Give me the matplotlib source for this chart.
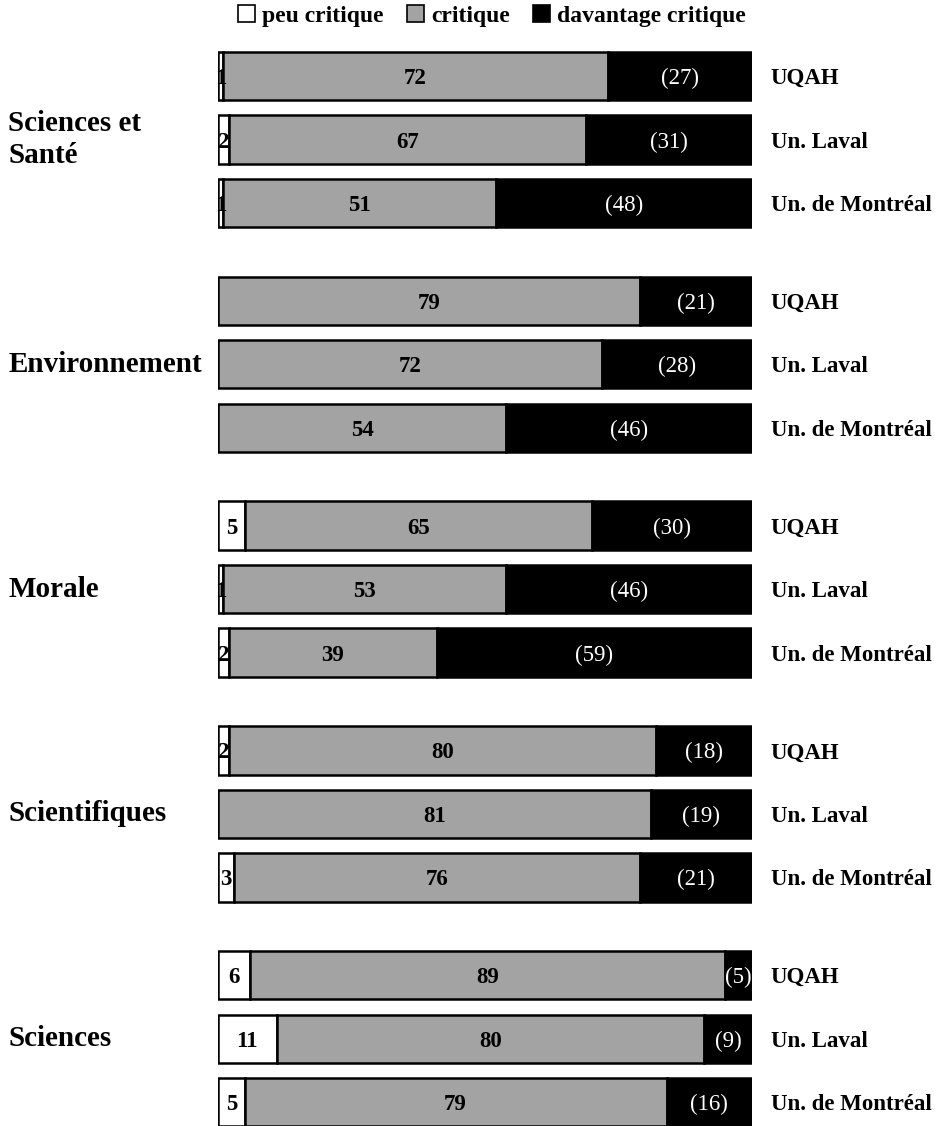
import numpy as np
import matplotlib.pyplot as plt
from matplotlib.patches import Patch

plt.rcParams['font.family'] = ['Liberation Serif', 'DejaVu Serif']

# data (percent)
groups = ["Sciences et\nSanté", "Environnement", "Morale", "Scientifiques", "Sciences"]
universities = ["UQAH", "Un. Laval", "Un. de Montréal"]
peu = [[1, 2, 1], [0, 0, 0], [5, 1, 2], [2, 0, 3], [6, 11, 5]]
critique = [[72, 67, 51], [79, 72, 54], [65, 53, 39], [80, 81, 76], [89, 80, 79]]
davantage = [[27, 31, 48], [21, 28, 46], [30, 46, 59], [18, 19, 21], [5, 9, 16]]

gray = "#a3a3a3"
fig = plt.figure(figsize=(9.42, 11.26), dpi=100)
ax = fig.add_axes([218 / 942, 0, (752 - 218) / 942, 1])

group_step = 3.54
bar_h = 0.76
lw = 1.8

for g in range(len(groups)):
    for i in range(3):
        y = g * group_step + i
        p, c, d = peu[g][i], critique[g][i], davantage[g][i]
        if p > 0:
            ax.barh(y, p, left=0, height=bar_h, color="white", edgecolor="black", linewidth=lw)
            ax.text(p / 2, y, str(p), ha="center", va="center_baseline", fontsize=16.5,
                    fontweight="bold")
        ax.barh(y, c, left=p, height=bar_h, color=gray, edgecolor="black", linewidth=lw)
        ax.text(p + c / 2, y, str(c), ha="center", va="center_baseline", fontsize=16.5,
                fontweight="bold")
        ax.barh(y, d, left=p + c, height=bar_h, color="black", edgecolor="black", linewidth=lw)
        ax.text(p + c + d / 2, y, "(%d)" % d, ha="center", va="center_baseline", fontsize=16.5,
                color="white")
        ax.text(103.5, y, universities[i], ha="left", va="center_baseline", fontsize=16.5,
                fontweight="bold", clip_on=False)
    ax.text(-39.3, g * group_step + 1, groups[g], ha="left", va="center", fontsize=21,
            fontweight="bold", clip_on=False, linespacing=1.25)

ax.set_xlim(0, 100)
ax.set_ylim(16.535, -1.197)
ax.axis("off")

handles = [Patch(facecolor="white", edgecolor="black", linewidth=1.2),
           Patch(facecolor=gray, edgecolor="black", linewidth=1.2),
           Patch(facecolor="black", edgecolor="black", linewidth=1.2)]
fig.legend(handles, ["peu critique", "critique", "davantage critique"], loc="center",
           bbox_to_anchor=(492 / 942, 1 - 16 / 1126), ncol=3, frameon=False,
           prop={"size": 17, "weight": "bold"}, handlelength=0.7, handleheight=0.7,
           handletextpad=0.3, columnspacing=1.0)

fig.savefig("out.png", dpi=100)
